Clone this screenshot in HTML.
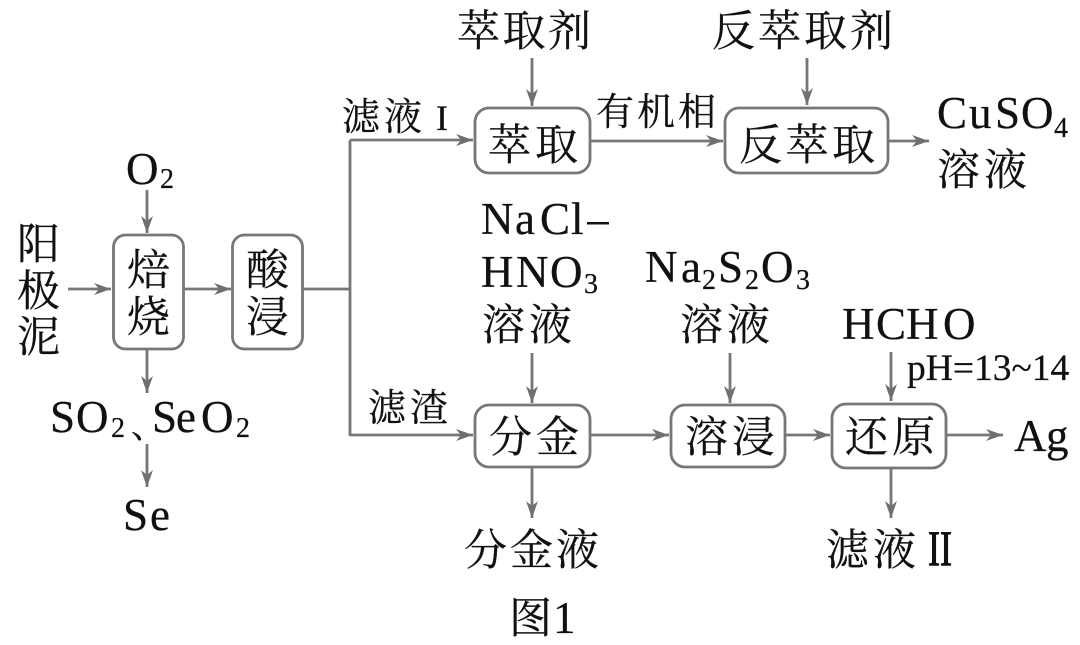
<!DOCTYPE html>
<html><head><meta charset="utf-8"><style>
html,body{margin:0;padding:0;background:#fff;width:1080px;height:645px;overflow:hidden}
text{font-family:"Liberation Serif","Noto Serif CJK SC",serif;fill:#111;stroke:#111;stroke-width:.25px}
.c{font-size:43px}.l{font-size:45px}.s{font-size:28px}.m{font-size:37.500px}.d{font-size:38px}
</style></head><body>
<svg width="1080" height="645" viewBox="0 0 1080 645" xmlns="http://www.w3.org/2000/svg">
<defs><marker id="a" markerUnits="userSpaceOnUse" markerWidth="20" markerHeight="14" refX="17" refY="7" orient="auto"><path d="M0 1L17 7L0 13L5 7Z" fill="#707070"/></marker></defs>
<g fill="none" stroke="#777" stroke-width="2.800">
<rect x="113.500" y="235" width="70" height="114" rx="12"/>
<rect x="232.500" y="235" width="70" height="114" rx="12"/>
<rect x="475" y="108" width="115" height="65" rx="14"/>
<rect x="725" y="108" width="163" height="65" rx="14"/>
<rect x="475" y="405" width="115" height="62" rx="14"/>
<rect x="671" y="405" width="114" height="62" rx="14"/>
<rect x="832" y="404" width="114" height="64" rx="14"/>
<path d="M302 289H350M350 140V436" />
<g marker-end="url(#a)">
<path d="M147 190V233"/><path d="M68 289H111"/><path d="M183 289H231"/><path d="M147 349V393"/><path d="M147 444V487"/>
<path d="M350 140H473"/><path d="M350 435H473"/>
<path d="M532 58V106"/><path d="M590 141H723"/><path d="M807 58V105"/><path d="M888 141H929"/>
<path d="M532 353V403"/><path d="M590 435H669"/><path d="M730 353V403"/><path d="M785 435H830"/>
<path d="M891 352V401"/><path d="M946 435H1003"/><path d="M532 467V518"/><path d="M891 468V518"/>
</g></g>
<text class="c" x="457" y="46" textLength="134">萃取剂</text>
<text class="c" x="712" y="46" textLength="181">反萃取剂</text>
<text class="c" x="488" y="160" textLength="90">萃取</text>
<text class="c" x="739" y="160" textLength="136">反萃取</text>
<text class="d" x="342" y="130" textLength="80">滤液</text><text x="436" y="130" style="font-size:36px">I</text>
<text class="d" x="596" y="125" textLength="120">有机相</text>
<text class="l" x="937 969 995 1021" y="128">CuSO</text><text class="s" x="1054" y="137">4</text>
<text class="c" x="937" y="185" textLength="90">溶液</text>
<text class="l" x="126" y="184">O</text><text class="s" x="160" y="188">2</text>
<text class="c" x="17" y="259">阳</text><text class="c" x="17" y="306">极</text><text class="c" x="17" y="352">泥</text>
<text class="c" x="127" y="285">焙</text><text class="c" x="127" y="332">烧</text>
<text class="c" x="246" y="285">酸</text><text class="c" x="246" y="332">浸</text>
<text class="l" x="50 76" y="432">SO</text><text class="s" x="111" y="437">2</text>
<text style="font-size:34px" x="131" y="438">、</text>
<text class="l" x="152 176 201" y="432">SeO</text><text class="s" x="236" y="437">2</text>
<text class="l" x="123 150" y="530">Se</text>
<text class="l" x="481 515 540 571" y="234">NaCl</text>
<rect x="587" y="222" width="22" height="2.500" fill="#111"/>
<text class="l" x="481 516 550" y="287">HNO</text><text class="s" x="584" y="293">3</text>
<text class="c" x="482" y="340" textLength="90">溶液</text>
<text class="l" x="645 681" y="282">Na</text><text class="s" x="702" y="289">2</text>
<text class="l" x="718" y="282">S</text><text class="s" x="745" y="289">2</text>
<text class="l" x="761" y="282">O</text><text class="s" x="796" y="289">3</text>
<text class="c" x="680" y="340" textLength="90">溶液</text>
<text class="l" x="842 876 906 943" y="339">HCHO</text>
<text class="m" x="907" y="380">pH=13~14</text>
<text class="d" x="368" y="421" textLength="80">滤渣</text>
<text class="c" x="489" y="452" textLength="90">分金</text>
<text class="c" x="685" y="452" textLength="90">溶浸</text>
<text class="c" x="845" y="452" textLength="90">还原</text>
<text class="l" x="1014 1046" y="451">Ag</text>
<text class="c" x="464" y="565" textLength="135">分金液</text>
<text class="c" x="826" y="565" textLength="90">滤液</text><text style="font-size:50px;stroke-width:1px" x="928" y="565" textLength="24" lengthAdjust="spacingAndGlyphs">II</text>
<text class="c" x="509" y="633" textLength="42">图</text><text class="l" x="553" y="633">1</text>
<rect x="1069" y="0" width="11" height="645" fill="#fff"/>
</svg>
</body></html>
